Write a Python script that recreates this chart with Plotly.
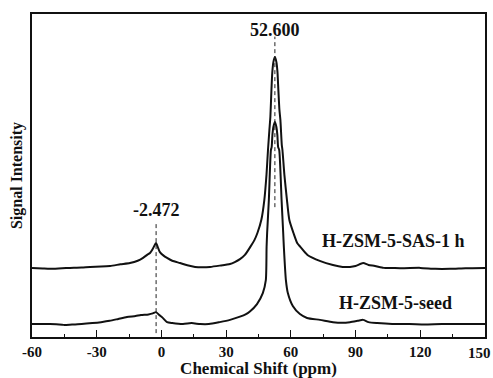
import plotly.graph_objects as go

# Chemical shift (ppm) and intensity
sas_x = [-60, -55, -51.7, -46, -42.4, -37, -33.1, -28, -23.8, -19, -14.6, -11, -8.5, -6.5, -5.3, -4, -2.5,
         -1.5, -0.7, 1, 2.6, 5, 8.6, 12, 15.6, 19, 22.5, 27, 31.8, 34, 36.4, 38.7, 41.2, 43.1, 44.5, 46.3,
         47.7, 48.7, 49.4, 50.05, 50.5, 51.0, 51.4, 51.9, 52.6, 53.3, 53.8, 54.2, 54.7, 55.15, 55.8, 56.1,
         57.0, 58.2, 59.3, 61.2, 63.0, 64.4, 67.7, 73.7, 79.5, 84, 87.4, 90, 93.5, 96, 99, 103, 106, 112,
         119.9, 127, 133.8, 141, 150]
sas_y = [21.4, 21.2, 21.1, 21.3, 21.4, 21.5, 21.7, 21.8, 22.0, 22.5, 22.9, 23.6, 24.5, 25.5, 26.0, 27.3, 29.1,
         27.5, 26.3, 25.2, 24.5, 23.6, 22.9, 22.2, 21.7, 21.6, 21.7, 22.1, 22.6, 23.2, 24.1, 25.4, 27.9, 30.0,
         32.2, 36.2, 42.4, 50.2, 57.9, 64.1, 68.1, 76.5, 82.0, 85.1, 86.7, 85.1, 82.0, 76.5, 70.3, 67.2, 59.4,
         57.9, 50.2, 42.4, 36.2, 32.2, 29.0, 27.9, 25.4, 23.5, 22.3, 21.7, 21.7, 22.0, 22.9, 22.3, 22.0, 21.4,
         21.4, 21.3, 21.4, 21.1, 21.1, 21.3, 21.4]

seed_x = [-60, -55, -51.7, -46, -44.6, -40, -37, -32, -28, -24, -20, -16, -12, -9.5, -6, -4, -2.5, -1, 0.5,
          2.6, 5, 10, 14, 18, 22, 27, 31.8, 36.4, 39, 41.0, 44.3, 47.0, 48.4, 48.75, 49.0, 49.8, 50.75, 51.1,
          51.45, 51.9, 52.6, 53.3, 53.75, 54.1, 54.6, 55.7, 56.45, 56.75, 57.7, 58.6, 60.9, 64.2, 67.5, 73.5,
          79.5, 84, 87.4, 91, 93.5, 96, 100, 107, 115, 122, 130, 140, 150]
seed_y = [4.0, 4.0, 4.0, 3.8, 3.7, 3.9, 4.0, 4.3, 4.6, 5.0, 5.6, 6.2, 6.5, 6.8, 7.0, 7.3, 7.7, 6.8, 6.0,
          4.6, 4.3, 4.0, 4.3, 4.0, 4.0, 4.6, 5.3, 6.3, 7.0, 7.9, 10.2, 13.6, 17.6, 27.9, 32.2, 42.4, 57.9, 58.8,
          62.5, 65.0, 66.6, 65.0, 62.5, 58.8, 57.9, 42.4, 32.2, 27.9, 17.6, 13.6, 9.6, 7.1, 5.9, 5.3,
          4.6, 4.4, 4.6, 5.0, 5.3, 4.6, 4.3, 4.0, 4.0, 3.9, 4.0, 4.0, 4.0]

peak_pos = [52.6, -2.472]
peak_labels = ["52.600", "-2.472"]
peak_line_top = [93, 35.6]
peak_line_bottom = [40.2, 1.2]
peak_label_y = [95.0, 39.3]

series_names = ["H-ZSM-5-SAS-1 h", "H-ZSM-5-seed"]
series_label_x = [107.4, 108.3]
series_label_y = [29.7, 10.4]

x_ticks = [-60, -30, 0, 30, 60, 90, 120, 150]
x_ticktext = ["-60", "-30", "0", "30", "60", "90", "120", "150"]

FONT = "Liberation Serif"

fig = go.Figure()
for xs, ys, nm in [(sas_x, sas_y, series_names[0]), (seed_x, seed_y, series_names[1])]:
    fig.add_trace(go.Scatter(x=xs, y=ys, mode="lines", name=nm,
                             line=dict(color="#111111", width=2, shape="spline", smoothing=0.6),
                             showlegend=False))

for px, top, bot in zip(peak_pos, peak_line_top, peak_line_bottom):
    fig.add_trace(go.Scatter(x=[px, px], y=[bot, top], mode="lines",
                             line=dict(color="#222222", width=1, dash="4px,3px"), showlegend=False))

for px, lab, ly in zip(peak_pos, peak_labels, peak_label_y):
    fig.add_annotation(x=px, y=ly, text="<b>%s</b>" % lab, showarrow=False,
                       font=dict(family=FONT, size=18, color="#111111"))

for nm, lx, ly in zip(series_names, series_label_x, series_label_y):
    fig.add_annotation(x=lx, y=ly, text="<b>%s</b>" % nm, showarrow=False,
                       font=dict(family=FONT, size=18, color="#111111"))

# last tick label kept inside the page (the reference shows it at the right edge)
fig.add_annotation(x=x_ticks[-1], y=0, xref="x", yref="y", yanchor="top", xanchor="right",
                   xshift=8, yshift=-6, text="<b>%s</b>" % x_ticktext[-1], showarrow=False,
                   font=dict(family=FONT, size=15, color="#111111"))

fig.update_layout(
    width=493, height=378,
    margin=dict(l=32, r=8, t=14, b=41, autoexpand=False),
    paper_bgcolor="white", plot_bgcolor="white",
    font=dict(family=FONT, color="#111111"),
)
fig.update_xaxes(
    range=[-60, 150], tickvals=x_ticks,
    ticktext=["<b>%s</b>" % t for t in x_ticktext[:-1]] + [""],
    ticks="inside", ticklen=7, tickwidth=1.2, tickcolor="#111111",
    minor=dict(dtick=15, tick0=-60, ticks="inside", ticklen=3, tickwidth=1.2, tickcolor="#111111"),
    showline=True, linecolor="#111111", linewidth=1.5, mirror=True,
    showgrid=False, zeroline=False, automargin=False,
    tickfont=dict(family=FONT, size=15, color="#111111"),
    title=dict(text="<b>Chemical Shift (ppm)</b>", font=dict(family=FONT, size=17, color="#111111"), standoff=2),
)
fig.update_yaxes(
    range=[0, 100], showticklabels=False, ticks="", automargin=False,
    showline=True, linecolor="#111111", linewidth=1.5, mirror=True,
    showgrid=False, zeroline=False,
    title=dict(text="<b>Signal Intensity</b>", font=dict(family=FONT, size=16, color="#111111"), standoff=4),
)

fig.write_html("out.html")
